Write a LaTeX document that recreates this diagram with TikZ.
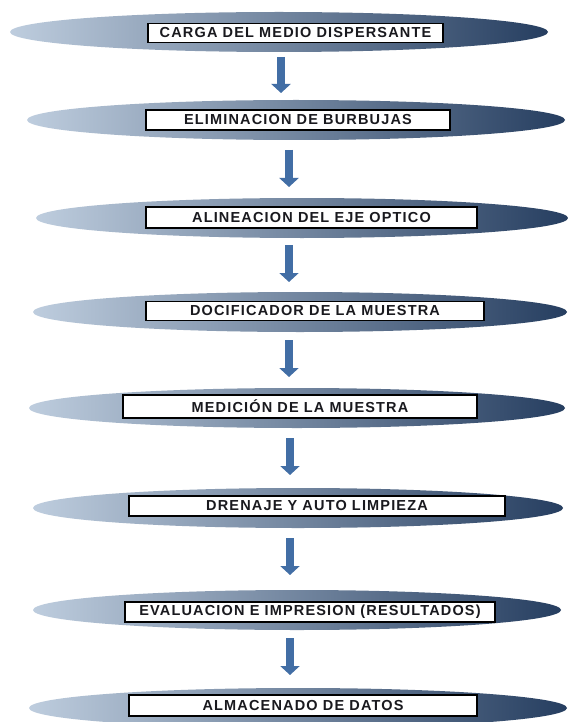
\documentclass[tikz,border=0pt]{standalone}
\usepackage{fontspec}
\newfontfamily\lbl[LetterSpace=8]{Liberation Sans}
\usetikzlibrary{shapes.geometric,arrows.meta}
\definecolor{ellL}{RGB}{190,205,222}
\definecolor{ellM}{RGB}{160,180,204}
\definecolor{ellR}{RGB}{38,62,96}
\definecolor{arrc}{RGB}{66,110,165}
\definecolor{txt}{RGB}{25,25,30}
\tikzset{
  lens/.style={ellipse, inner sep=0pt, minimum height=40pt,
    left color=ellL, middle color=ellM, right color=ellR, draw=none},
  stepbox/.style={rectangle, draw=black, line width=1.8pt, fill=white,
    inner sep=0pt, text=txt, font=\lbl\bfseries\fontsize{14.5}{16}\selectfont},
  blockarrow/.style={draw=arrc, line width=7.5pt,
    -{Triangle[width=19pt,length=9pt,fill=arrc]}}
}
\begin{document}
\begin{tikzpicture}[x=1pt,y=-1pt]
\useasboundingbox (0,0) rectangle (568,722);
\clip (0,0) rectangle (568,722);
\fill[white] (0,0) rectangle (568,722);
% lenses
\node[lens, minimum width=538pt] (e1) at (279,32) {};
\node[lens, minimum width=538pt] (e2) at (296,120) {};
\node[lens, minimum width=532pt] (e3) at (302,218) {};
\node[lens, minimum width=534pt] (e4) at (300,312) {};
\node[lens, minimum width=536pt] (e5) at (297,408) {};
\node[lens, minimum width=530pt] (e6) at (298,508) {};
\node[lens, minimum width=528pt] (e7) at (297,610) {};
\node[lens, minimum width=538pt] (e8) at (298,708) {};
% boxes
\node[stepbox, minimum width=295pt, minimum height=19pt] (b1) at (295.5,33) {CARGA DEL MEDIO DISPERSANTE};
\node[stepbox, minimum width=304pt, minimum height=20pt] (b2) at (298,120) {ELIMINACION DE BURBUJAS};
\node[stepbox, minimum width=331pt, minimum height=21pt] (b3) at (311.5,217.5) {ALINEACION DEL EJE OPTICO};
\node[stepbox, minimum width=338pt, minimum height=19pt] (b4) at (315,311) {DOCIFICADOR DE LA MUESTRA};
\node[stepbox, minimum width=354pt, minimum height=23pt] (b5) at (300,406.5) {MEDICIÓN DE LA MUESTRA};
\node[stepbox, minimum width=376pt, minimum height=20pt] (b6) at (317,506) {DRENAJE Y AUTO LIMPIEZA};
\node[stepbox, minimum width=370pt, minimum height=20pt] (b7) at (310,612) {EVALUACION E IMPRESION (RESULTADOS)};
\node[stepbox, minimum width=348pt, minimum height=21pt] (b8) at (303,705.5) {ALMACENADO DE DATOS};
% arrows
\coordinate (a1s) at (281,57);  \coordinate (a1e) at (281,93);
\coordinate (a2s) at (289,150); \coordinate (a2e) at (289,187);
\coordinate (a3s) at (289,245); \coordinate (a3e) at (289,282);
\coordinate (a4s) at (289,340); \coordinate (a4e) at (289,377);
\coordinate (a5s) at (290,438); \coordinate (a5e) at (290,475);
\coordinate (a6s) at (290,538); \coordinate (a6e) at (290,575);
\coordinate (a7s) at (290,638); \coordinate (a7e) at (290,675);
\foreach \i in {1,...,7} {\draw[blockarrow] (a\i s) -- (a\i e);}
\end{tikzpicture}
\end{document}
